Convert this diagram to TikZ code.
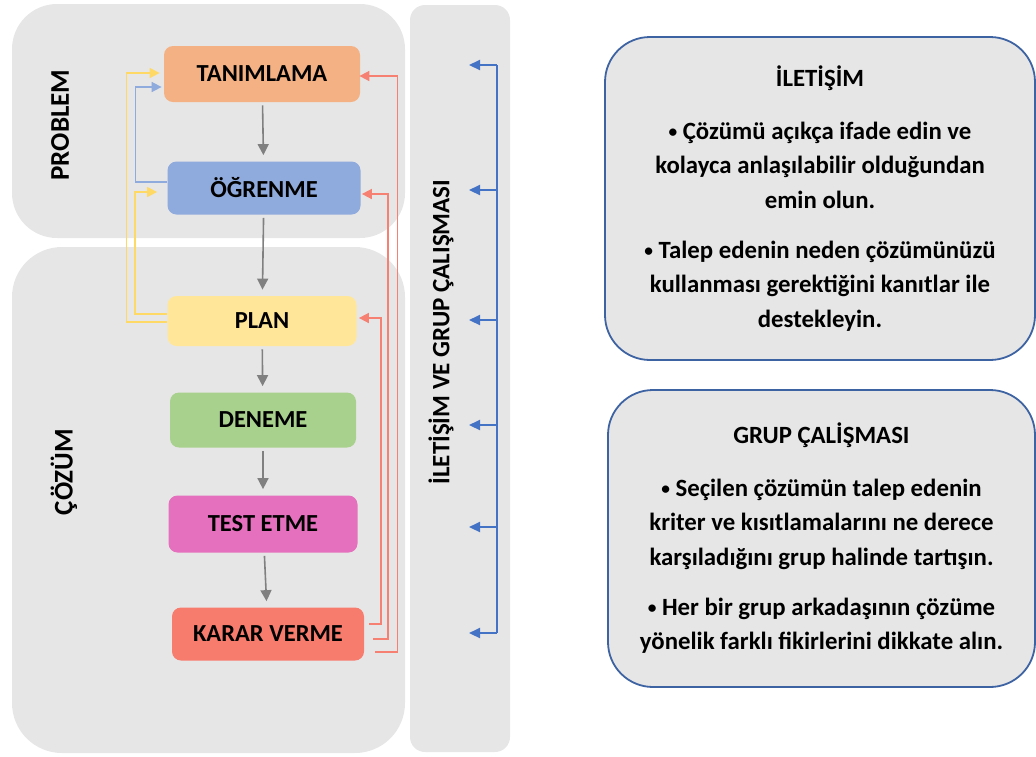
\documentclass[tikz,border=0pt]{standalone}
\usepackage{fontspec}
\setmainfont{Carlito}
\usepackage{tikz}
\usetikzlibrary{arrows.meta}
\tikzset{every picture/.style={line width=0.75pt}}
\newcommand{\bul}{\raisebox{0.12ex}{\scalebox{0.7}{•}}}
\tikzset{
  panel/.style={fill={rgb, 255:red, 231; green, 230; blue, 230}},
  stage/.style={rounded corners=9pt, minimum width=192pt, minimum height=54pt, inner sep=0pt,
    font=\bfseries\fontsize{24.5}{29}\selectfont},
  sidelabel/.style={rotate=90, inner sep=0pt, font=\bfseries\fontsize{25}{30}\selectfont},
  flow/.style={draw={rgb, 255:red, 128; green, 128; blue, 128}, line width=1.6pt,
    -{Triangle[length=11pt,width=11pt]}, shorten <=3pt, shorten >=6pt},
  back/.style={line width=1.6pt, -{Triangle[length=10pt,width=10pt]}, rounded corners=0pt},
  yback/.style={back, draw={rgb, 255:red, 255; green, 217; blue, 102}, color={rgb, 255:red, 255; green, 217; blue, 102}},
  bback/.style={back, draw={rgb, 255:red, 143; green, 170; blue, 220}, color={rgb, 255:red, 143; green, 170; blue, 220}},
  rback/.style={back, draw={rgb, 255:red, 246; green, 128; blue, 114}, color={rgb, 255:red, 246; green, 128; blue, 114}},
  link/.style={line width=2.2pt, color={rgb, 255:red, 68; green, 114; blue, 196}},
  infobox/.style={panel, draw={rgb, 255:red, 61; green, 99; blue, 163}, line width=1.8pt, rounded corners=45pt,
    align=center, inner sep=0pt, font=\bfseries\fontsize{24.8}{34.5}\selectfont}
}
\begin{document}
\begin{tikzpicture}[x=1pt,y=-1pt]
\useasboundingbox (0,0) rectangle (1036,756);

%Shape: Panels
\fill [panel, rounded corners=45pt] (12,4) rectangle (405,238) ;
\fill [panel, rounded corners=50pt] (12,247) rectangle (405,753) ;
\fill [panel, rounded corners=15pt] (410,5) rectangle (510,752) ;

% Text Node
\node [sidelabel, font=\bfseries\fontsize{27}{32}\selectfont] (problem) at (60,125) {PROBLEM};
% Text Node
\node [sidelabel, font=\bfseries\fontsize{27}{32}\selectfont] (cozum) at (64,472) {ÇÖZÜM};
% Text Node
\node [sidelabel] (ortak) at (441,332) {İLETİŞİM VE GRUP ÇALIŞMASI};

% Stages
\node [stage, fill={rgb, 255:red, 244; green, 177; blue, 131}, minimum width=196pt, minimum height=56pt] (tanim) at (262,74) {TANIMLAMA};
\node [stage, fill={rgb, 255:red, 143; green, 170; blue, 220}, minimum width=193pt, minimum height=53pt] (ogren) at (264,188) {ÖĞRENME};
\node [stage, fill={rgb, 255:red, 255; green, 230; blue, 153}, minimum width=189pt, minimum height=50pt] (plan) at (262,321) {PLAN};
\node [stage, fill={rgb, 255:red, 169; green, 209; blue, 142}, minimum width=186pt, minimum height=55pt] (deneme) at (263,420) {DENEME};
\node [stage, fill={rgb, 255:red, 228; green, 112; blue, 190}, minimum width=189pt, minimum height=57pt] (test) at (263,524) {TEST ETME};
\node [stage, fill={rgb, 255:red, 248; green, 124; blue, 110}, minimum width=192pt, minimum height=53pt] (karar) at (268,634) {KARAR VERME};

% Straight Lines
\draw [flow] (tanim) -- (ogren) ;
\draw [flow] (ogren) -- (plan) ;
\draw [flow] (plan) -- (deneme) ;
\draw [flow] (deneme) -- (test) ;
\draw [flow] (test) -- (karar) ;

% Back Lines, left
\draw [yback, shorten >=4pt] ([yshift=-1pt]plan.west) -| ([xshift=-37pt,yshift=1pt]tanim.west) -- ([yshift=1pt]tanim.west) ;
\draw [yback, shorten >=10pt] ([yshift=7pt]plan.west) -| ([xshift=-32pt,yshift=-4pt]ogren.west) -- ([yshift=-4pt]ogren.west) ;
\draw [bback, shorten >=2pt] ([yshift=6pt]ogren.west) -| ([xshift=-28pt,yshift=-13pt]tanim.west) -- ([yshift=-13pt]tanim.west) ;

% Back Lines, right
\draw [rback] ([xshift=5pt,yshift=10pt]karar.east) -| ([xshift=24pt,yshift=3pt]plan.east) -- ([xshift=2pt,yshift=3pt]plan.east) ;
\draw [rback] ([xshift=9pt,yshift=-5pt]karar.east) -| ([xshift=27pt,yshift=-6pt]ogren.east) -- ([xshift=1pt,yshift=-6pt]ogren.east) ;
\draw [rback] ([xshift=11pt,yshift=-18pt]karar.east) -| ([xshift=37pt,yshift=-2pt]tanim.east) -- ([xshift=-1pt,yshift=-2pt]tanim.east) ;

% Bracket
\foreach \y [count=\i] in {65,190,320,425,527,633}
  \coordinate (br\i) at (497,\y) ;
\draw [link] (br1) -- (br6) ;
\foreach \i in {1,...,6}
  \draw [link, -{Triangle[length=11pt,width=10pt]}] (br\i) -- ++(-28,0) ;

% Info boxes
\node [infobox, minimum width=430pt, minimum height=323pt] (iletisim) at (820,198.5)
  {İLETİŞİM\\[18pt]
   \bul{} Çözümü açıkça ifade edin ve\\
   kolayca anlaşılabilir olduğundan\\
   emin olun.\\[15.5pt]
   \bul{} Talep edenin neden çözümünüzü\\
   kullanması gerektiğini kanıtlar ile\\
   destekleyin.};
\node [infobox, minimum width=427pt, minimum height=297pt] (grup) at (821.5,538.5)
  {GRUP ÇALİŞMASI\\[18pt]
   \bul{} Seçilen çözümün talep edenin\\
   kriter ve kısıtlamalarını ne derece\\
   karşıladığını grup halinde tartışın.\\[15.5pt]
   \bul{} Her bir grup arkadaşının çözüme\\
   yönelik farklı fikirlerini dikkate alın.};

\end{tikzpicture}
\end{document}
